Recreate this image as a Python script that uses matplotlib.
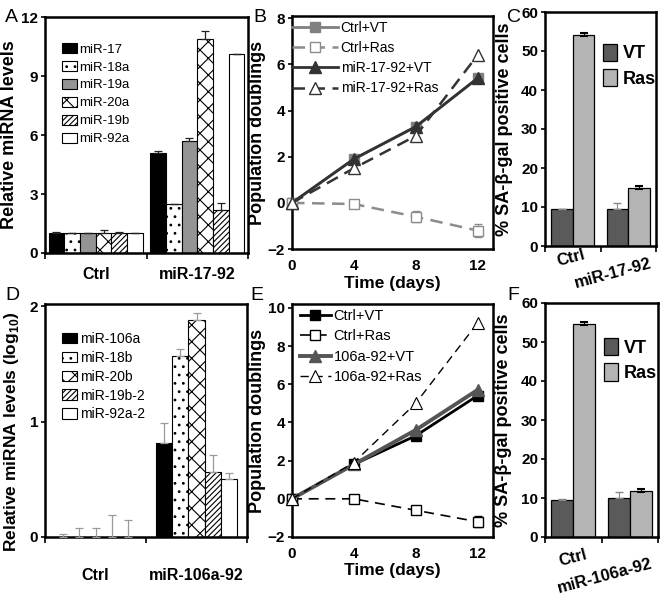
import matplotlib
matplotlib.use("Agg")
import matplotlib.pyplot as plt
import numpy as np
from matplotlib.patches import Rectangle

plt.rcParams['font.family'] = ['Liberation Sans', 'DejaVu Sans']
plt.rcParams['mathtext.fontset'] = 'custom'
plt.rcParams['mathtext.rm'] = 'Liberation Sans'
plt.rcParams['mathtext.bf'] = 'Liberation Sans:bold'
plt.rcParams['hatch.linewidth'] = 0.8

# ---------------- data ----------------
# Panel A
a_groups = ["Ctrl", "miR-17-92"]
a_mirs = ["miR-17", "miR-18a", "miR-19a", "miR-20a", "miR-19b", "miR-92a"]
a_ctrl = [1.0, 1.0, 1.0, 1.0, 1.0, 1.0]
a_ctrl_err = [0.05, 0.02, 0.02, 0.18, 0.05, 0.02]
a_mir = [5.1, 2.5, 5.7, 10.9, 2.2, 10.1]
a_mir_err = [0.1, 0.0, 0.15, 0.4, 0.35, 0.0]

# Panel B
days = [0, 4, 8, 12]
b_ctrl_vt = [0, 1.9, 3.3, 5.4]
b_ctrl_ras = [0, -0.05, -0.6, -1.2]
b_ctrl_ras_err = [0, 0.05, 0.25, 0.3]
b_mir_vt = [0, 1.9, 3.3, 5.4]
b_mir_ras = [0, 1.5, 2.9, 6.4]
b_labels = ["Ctrl+VT", "Ctrl+Ras", "miR-17-92+VT", "miR-17-92+Ras"]

# Panel C
c_groups = ["Ctrl", "miR-17-92"]
c_vt = [9.5, 9.5]
c_vt_err = [0.0, 1.5]
c_ras = [54.2, 15.0]
c_ras_err = [0.4, 0.3]

# Panel D
d_groups = ["Ctrl", "miR-106a-92"]
d_mirs = ["miR-106a", "miR-18b", "miR-20b", "miR-19b-2", "miR-92a-2"]
d_ctrl = [0.0, 0.0, 0.0, 0.0, 0.0]
d_ctrl_err = [0.03, 0.08, 0.08, 0.19, 0.15]
d_mir = [0.815, 1.57, 1.88, 0.565, 0.507]
d_mir_err = [0.17, 0.06, 0.06, 0.15, 0.05]

# Panel E
e_ctrl_vt = [0, 1.8, 3.3, 5.4]
e_ctrl_ras = [0, 0.0, -0.6, -1.2]
e_ctrl_ras_err = [0, 0.05, 0.2, 0.3]
e_mir_vt = [0, 1.8, 3.6, 5.7]
e_mir_ras = [0, 1.9, 5.0, 9.2]
e_labels = ["Ctrl+VT", "Ctrl+Ras", "106a-92+VT", "106a-92+Ras"]

# Panel F
f_groups = ["Ctrl", "miR-106a-92"]
f_vt = [9.6, 10.1]
f_vt_err = [0.2, 1.5]
f_ras = [54.7, 11.9]
f_ras_err = [0.4, 0.3]

# ---------------- figure ----------------
W, H = 664, 595
fig = plt.figure(figsize=(W / 100, H / 100), dpi=100)


def px_axes(x0, y0, x1, y1):
    return fig.add_axes([x0 / W, 1 - y1 / H, (x1 - x0) / W, (y1 - y0) / H])


def style_spines(ax, lw=1.8):
    for s in ax.spines.values():
        s.set_linewidth(lw)
        s.set_color('black')


TICKFS = 11

a_styles = [
    dict(color='black', hatch=None),
    dict(color='white', hatch='..'),
    dict(color='#949494', hatch=None),
    dict(color='white', hatch='xx'),
    dict(color='white', hatch='//////'),
    dict(color='white', hatch=None),
]
d_styles = [a_styles[0], a_styles[1], a_styles[3], a_styles[4], a_styles[5]]


def grouped_bars(ax, groups, series_ctrl, series_mir, err_ctrl, err_mir, styles, width, ecolor):
    n = len(styles)
    x = np.arange(len(groups))
    for i in range(n):
        off = (i - (n - 1) / 2) * width
        vals = [series_ctrl[i], series_mir[i]]
        errs = [err_ctrl[i], err_mir[i]]
        st = styles[i]
        ax.bar(x + off, vals, width, color=st['color'], edgecolor='black',
               hatch=st['hatch'], linewidth=0.8, zorder=2)
        ax.errorbar(x + off, vals, yerr=[[0, 0], errs], fmt='none', ecolor=ecolor,
                    elinewidth=0.9, capsize=3, capthick=0.9, zorder=3)
    ax.set_xlim(-0.5, len(groups) - 0.5)
    ax.set_xticks([-0.5, 0.5, 1.5])
    ax.set_xticklabels([])
    ax.tick_params(axis='x', which='major', length=4, width=1.2, direction='out')
    ax.set_xticks(x, minor=True)
    ax.set_xticklabels(groups, minor=True, fontsize=TICKFS + 0.5, fontweight='bold')
    ax.tick_params(axis='x', which='minor', length=0)


# ---------- Panel A ----------
axA = px_axes(45, 17, 248, 253)
grouped_bars(axA, a_groups, a_ctrl, a_mir, a_ctrl_err, a_mir_err, a_styles, 0.155, '#222222')
axA.set_ylim(0, 12)
axA.set_yticks([0, 3, 6, 9, 12])
axA.tick_params(axis='y', length=3, width=1.2, labelsize=TICKFS, pad=2)
axA.tick_params(axis='x', which='minor', pad=10)
for lab in axA.get_yticklabels():
    lab.set_fontweight('bold')
axA.set_ylabel("Relative miRNA levels", fontsize=13, fontweight='bold')
axA.yaxis.set_label_coords(-0.135, 0.5)
style_spines(axA)
handlesA = [Rectangle((0, 0), 1, 1, facecolor=s['color'], edgecolor='black', hatch=s['hatch'], linewidth=0.8)
            for s in a_styles]
axA.legend(handlesA, a_mirs, loc='upper left', bbox_to_anchor=(0.084, 0.89), frameon=False,
           fontsize=9.5, borderpad=0, borderaxespad=0, handlelength=1.1, handleheight=0.8,
           handletextpad=0.2, labelspacing=0.4)

# ---------- Panel D ----------
axD = px_axes(45, 304, 247, 537)
grouped_bars(axD, d_groups, d_ctrl, d_mir, d_ctrl_err, d_mir_err, d_styles, 0.16, '#9a9a9a')
axD.set_ylim(0, 2.02)
axD.set_yticks([0, 1, 2])
axD.tick_params(axis='y', length=3, width=1.2, labelsize=TICKFS, pad=2)
axD.tick_params(axis='x', which='minor', pad=22)
for lab in axD.get_yticklabels():
    lab.set_fontweight('bold')
axD.set_ylabel(r"Relative miRNA levels (log$_{\mathbf{10}}$)", fontsize=12.5, fontweight='bold')
axD.yaxis.set_label_coords(-0.118, 0.45)
style_spines(axD)
handlesD = [Rectangle((0, 0), 1, 1, facecolor=s['color'], edgecolor='black', hatch=s['hatch'], linewidth=0.8)
            for s in d_styles]
axD.legend(handlesD, d_mirs, loc='upper left', bbox_to_anchor=(0.084, 0.88), frameon=False,
           fontsize=10, borderpad=0, borderaxespad=0, handlelength=1.1, handleheight=0.8,
           handletextpad=0.2, labelspacing=0.35)


# ---------- line panels ----------
def line_panel(ax, series, labels, styles, ylim, yticks, err, handlelength, leg_anchor, legfs):
    for vals, lab, st in zip(series, labels, styles):
        ax.plot(days, vals, label=lab, **st, clip_on=False, zorder=3)
    ax.errorbar(days, series[1], yerr=err, fmt='none', ecolor=styles[1]['color'],
                elinewidth=0.8, capsize=3, zorder=2)
    ax.set_xlim(0, 13)
    ax.set_ylim(*ylim)
    ax.set_xticks(days)
    ax.set_yticks(yticks)
    ax.tick_params(axis='x', length=0, pad=7, labelsize=TICKFS)
    ax.tick_params(axis='y', length=3, width=1.2, pad=2, labelsize=TICKFS)
    for lab in ax.get_xticklabels() + ax.get_yticklabels():
        lab.set_fontweight('bold')
    ax.set_xlabel("Time (days)", fontsize=12.5, fontweight='bold', labelpad=2)
    ax.set_ylabel("Population doublings", fontsize=13, fontweight='bold')
    ax.yaxis.set_label_coords(-0.13, 0.5)
    style_spines(ax)
    ax.legend(loc='upper left', bbox_to_anchor=leg_anchor, frameon=False, fontsize=legfs,
              borderpad=0, borderaxespad=0, handlelength=handlelength, handletextpad=0.2,
              labelspacing=0.45)


b_styles = [
    dict(color='#808080', lw=2.0, ls='-', marker='s', ms=7, mfc='#808080', mec='#808080'),
    dict(color='#8c8c8c', lw=1.8, ls=(0, (5, 3)), marker='s', ms=7, mfc='white', mec='#8c8c8c', mew=1.0),
    dict(color='#333333', lw=2.0, ls='-', marker='^', ms=8, mfc='#333333', mec='#333333'),
    dict(color='#333333', lw=1.8, ls=(0, (5, 3)), marker='^', ms=8, mfc='white', mec='#333333', mew=1.0),
]
axB = px_axes(292, 16, 493, 249)
line_panel(axB, [b_ctrl_vt, b_ctrl_ras, b_mir_vt, b_mir_ras], b_labels, b_styles,
           (-2, 8.1), [-2, 0, 2, 4, 6, 8], b_ctrl_ras_err, 3.3, (0.0, 0.98), 10)

e_styles = [
    dict(color='black', lw=2.0, ls='-', marker='s', ms=7, mfc='black', mec='black'),
    dict(color='black', lw=1.2, ls=(0, (6, 4)), marker='s', ms=7, mfc='white', mec='black', mew=1.0),
    dict(color='#555555', lw=2.8, ls='-', marker='^', ms=8, mfc='#555555', mec='#555555'),
    dict(color='black', lw=1.0, ls=(0, (6, 4)), marker='^', ms=8, mfc='white', mec='black', mew=0.8),
]
axE = px_axes(292, 304, 493, 537)
line_panel(axE, [e_ctrl_vt, e_ctrl_ras, e_mir_vt, e_mir_ras], e_labels, e_styles,
           (-2, 10.2), [-2, 0, 2, 4, 6, 8, 10], e_ctrl_ras_err, 2.1, (0.04, 0.98), 10.5)


# ---------- SA-beta-gal panels ----------
def sa_panel(ax, groups, vt, vt_err, ras, ras_err, label_offsets, leg_y):
    x = np.arange(len(groups))
    w = 0.39
    ax.bar(x - w / 2, vt, w, color='#5a5a5a', edgecolor='black', linewidth=0.9, label='VT', zorder=2)
    ax.bar(x + w / 2, ras, w, color='#b4b4b4', edgecolor='black', linewidth=0.9, label='Ras', zorder=2)
    ax.errorbar(x - w / 2, vt, yerr=[[0] * len(vt), vt_err], fmt='none', ecolor='#888888',
                elinewidth=0.8, capsize=3, zorder=3)
    ax.errorbar(x + w / 2, ras, yerr=[ras_err, ras_err], fmt='none', ecolor='black',
                elinewidth=0.8, capsize=3, capthick=1.5, zorder=3)
    ax.set_xlim(-0.5, len(groups) - 0.5)
    ax.set_ylim(0, 60)
    ax.set_yticks(range(0, 61, 10))
    ax.set_xticks([-0.5, 0.5, 1.5])
    ax.set_xticklabels([])
    ax.tick_params(axis='x', length=4, width=1.2, direction='out')
    ax.tick_params(axis='y', length=3, width=1.2, pad=2, labelsize=TICKFS)
    for lab in ax.get_yticklabels():
        lab.set_fontweight('bold')
    for xi, g, (dx, dy) in zip(x, groups, label_offsets):
        ax.annotate(g, xy=(xi, 0), xycoords=('data', 'axes fraction'), xytext=(dx, dy),
                    textcoords='offset points', ha='center', va='top', rotation=15,
                    fontsize=12, fontweight='bold', annotation_clip=False)
    ax.set_ylabel("% SA-\u03b2-gal positive cells", fontsize=13, fontweight='bold')
    ax.yaxis.set_label_coords(-0.29, 0.5)
    style_spines(ax)
    ax.legend(loc='upper left', bbox_to_anchor=(0.52, leg_y), frameon=False,
              prop=dict(size=13, weight='bold'), borderpad=0, borderaxespad=0,
              handlelength=0.8, handleheight=1.1, handletextpad=0.3, labelspacing=0.35)


axC = px_axes(545, 12, 656, 246)
sa_panel(axC, c_groups, c_vt, c_vt_err, c_ras, c_ras_err, [(-1, -1), (-11, -7)], 0.865)
axF = px_axes(545, 303, 658, 537)
sa_panel(axF, f_groups, f_vt, f_vt_err, f_ras, f_ras_err, [(0, -7), (-18, -14)], 0.85)

# ---------- panel letters ----------
for letter, (lx, ly) in zip("ABCDEF", [(5, 22), (253, 22), (507, 22), (5, 300), (250, 300), (507, 300)]):
    fig.text(lx / W, 1 - ly / H, letter, fontsize=14, va='baseline', ha='left')

fig.savefig("out.png", dpi=100)
